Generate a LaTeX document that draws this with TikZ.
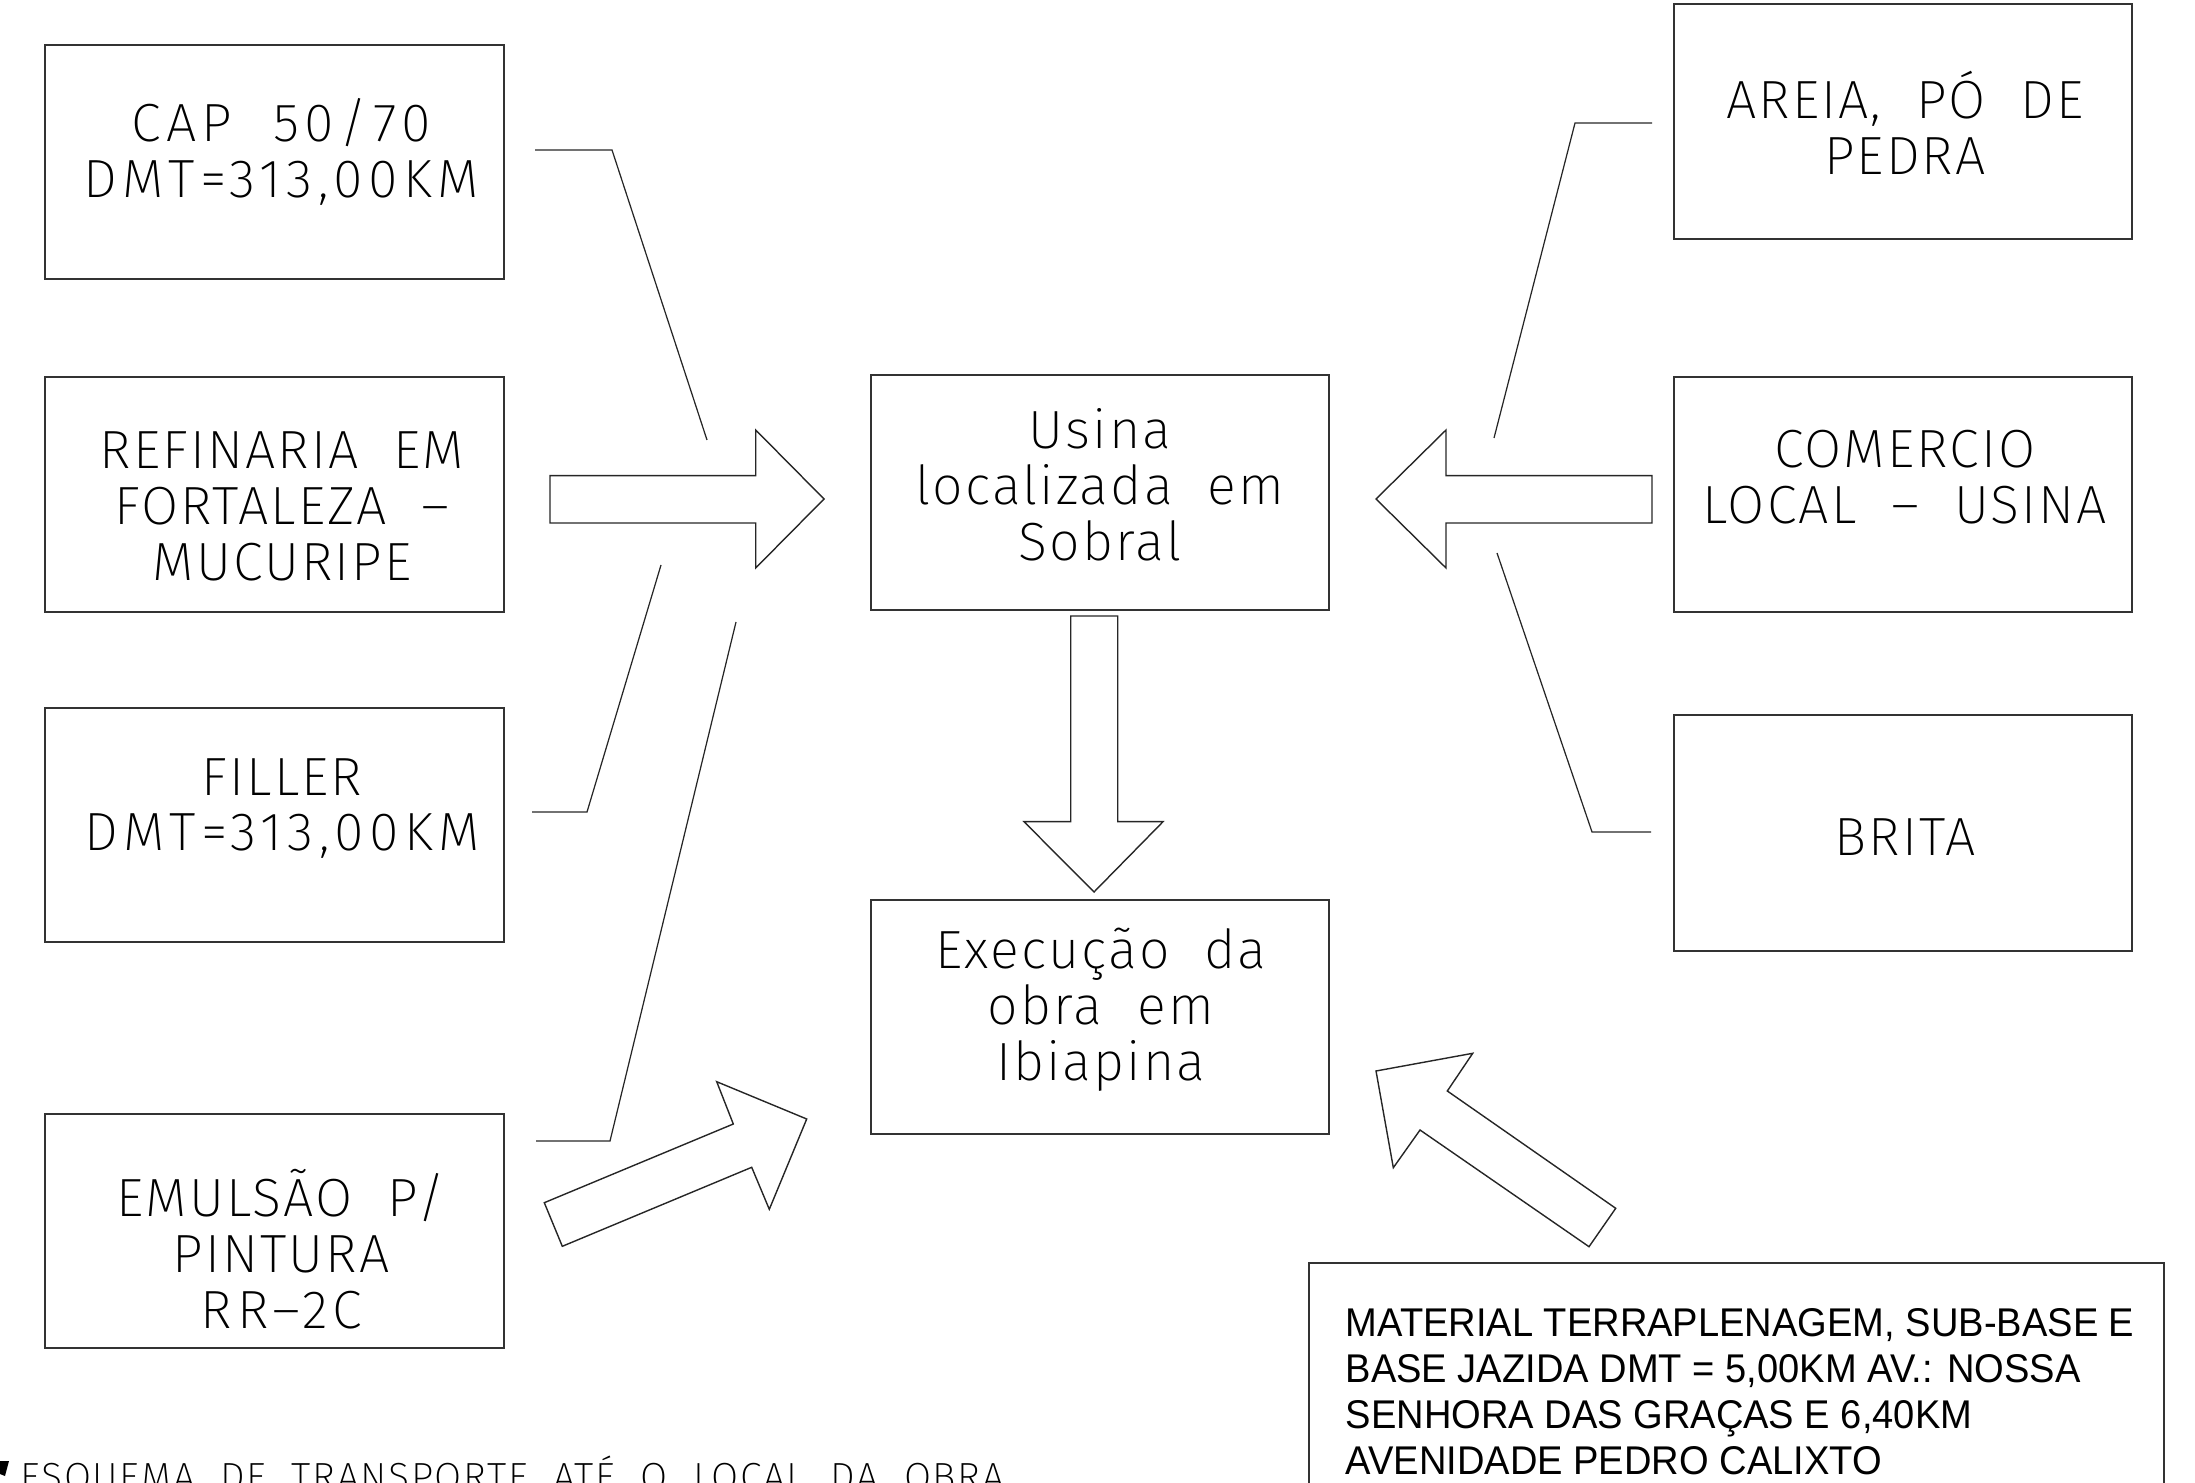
\documentclass[tikz,border=0pt]{standalone}
\usepackage{fontspec}
\setmainfont{Liberation Sans}
\newfontfamily\cadfont{Fira Sans ExtraLight}[LetterSpace=4,WordSpace=2]
\newcommand{\wide}[1]{{\addfontfeature{LetterSpace=10}#1}}
\begin{document}
\begin{tikzpicture}[x=0.01cm,y=-0.01cm,
  boxn/.style={draw=black!80,line width=0.45pt,rectangle,inner sep=0pt},
  cadtext/.style={align=center,inner sep=0pt,font=\cadfont\fontsize{15.3}{15.9}\selectfont},
  conn/.style={draw=black!85,line width=0.35pt},
  bigarrow/.style={draw=black!85,line width=0.4pt,line join=miter}]
\useasboundingbox (0,0) rectangle (2195,1483);
\clip (0,0) rectangle (2195,1483);
% boxes
\node[boxn,minimum width=4.59cm,minimum height=2.34cm] (b1) at (274.5,162) {};
\node[boxn,minimum width=4.59cm,minimum height=2.35cm] (b2) at (274.5,494.5) {};
\node[boxn,minimum width=4.59cm,minimum height=2.34cm] (b3) at (274.5,825) {};
\node[boxn,minimum width=4.59cm,minimum height=2.34cm] (b4) at (274.5,1231) {};
\node[boxn,minimum width=4.58cm,minimum height=2.35cm] (usina) at (1100,492.5) {};
\node[boxn,minimum width=4.58cm,minimum height=2.34cm] (exec) at (1100,1017) {};
\node[boxn,minimum width=4.58cm,minimum height=2.35cm] (r1) at (1903,121.5) {};
\node[boxn,minimum width=4.58cm,minimum height=2.35cm] (r2) at (1903,494.5) {};
\node[boxn,minimum width=4.58cm,minimum height=2.36cm] (r3) at (1903,833) {};
\node[boxn,minimum width=8.55cm,minimum height=3.37cm] (note) at (1736.5,1431.5) {};
% texts
\node[cadtext] (t1) at (281,151.5) {\wide{CAP 50/70}\\\wide{DMT=313,00KM}};
\node[cadtext] (t2) at (282,506) {REFINARIA EM\\FORTALEZA –\\MUCURIPE};
\node[cadtext] (t3) at (282,808.5) {FILLER\\\wide{DMT=313,00KM}};
\node[cadtext] (t4) at (281,1249) {EMULSÃO P/\\PINTURA\\\wide{RR–2C}};
\node[cadtext] (tu) at (1100,485) {Usina\\localizada em\\Sobral};
\node[cadtext] (te) at (1101,1010) {Execução da\\obra em\\Ibiapina};
\node[cadtext] (tr1) at (1905,123) {AREIA, PÓ DE\\PEDRA};
\node[cadtext] (tr2) at (1905,477) {COMERCIO\\LOCAL – USINA};
\node[cadtext] (tr3) at (1905,837) {BRITA};
\node[anchor=base west,inner sep=0pt,font=\fontsize{11.4}{13.1}\selectfont] (tnote) at (1345,1336)
  {\scalebox{0.95}[1]{\begin{tabular}[t]{@{}l@{}}MATERIAL TERRAPLENAGEM, SUB-BASE E\\BASE JAZIDA DMT = 5,00KM AV.: NOSSA\\SENHORA DAS GRAÇAS E 6,40KM\\AVENIDADE PEDRO CALIXTO\end{tabular}}};
\node[anchor=base west,inner sep=0pt,font=\cadfont\fontsize{11.16}{12}\selectfont] (cap) at (20,1490)
  {ESQUEMA DE TRANSPORTE ATÉ O LOCAL DA OBRA};
\fill[black] (0,1461) -- (9,1461) -- (5,1476) -- (0,1474) -- cycle;
% connector lines
\coordinate (l1a) at (535,150); \coordinate (l1b) at (612,150); \coordinate (l1c) at (707,440);
\coordinate (l2a) at (532,812); \coordinate (l2b) at (587,812); \coordinate (l2c) at (661,565);
\coordinate (l3a) at (536,1141); \coordinate (l3b) at (610,1141); \coordinate (l3c) at (736,622);
\coordinate (r1a) at (1652,123); \coordinate (r1b) at (1575,123); \coordinate (r1c) at (1494,438);
\coordinate (r3a) at (1651,832); \coordinate (r3b) at (1592,832); \coordinate (r3c) at (1497,553);
\draw[conn] (l1a) -- (l1b) -- (l1c);
\draw[conn] (l2a) -- (l2b) -- (l2c);
\draw[conn] (l3a) -- (l3b) -- (l3c);
\draw[conn] (r1a) -- (r1b) -- (r1c);
\draw[conn] (r3a) -- (r3b) -- (r3c);
% big hollow arrows
\draw[bigarrow] (550,475.7) -- (755.7,475.7) -- (755.7,430) -- (824,499) -- (755.7,568) -- (755.7,523) -- (550,523) -- cycle;
\draw[bigarrow] (1652,475.7) -- (1446,475.7) -- (1446,430) -- (1376,499) -- (1446,568) -- (1446,523) -- (1652,523) -- cycle;
\draw[bigarrow] (1070.7,616) -- (1117.7,616) -- (1117.7,821.7) -- (1163,821.7) -- (1094,892) -- (1024,821.7) -- (1070.7,821.7) -- cycle;
\draw[bigarrow] (562.3,1246.3) -- (544.3,1202.7) -- (733.3,1124) -- (716.7,1081.7) -- (806.7,1119) -- (769.3,1209.3) -- (751.7,1167.3) -- cycle;
\draw[bigarrow] (1589,1246.7) -- (1615.7,1208.3) -- (1447.3,1091) -- (1472.7,1053.3) -- (1376,1071) -- (1393.3,1167.7) -- (1420,1130) -- cycle;
\end{tikzpicture}
\end{document}
